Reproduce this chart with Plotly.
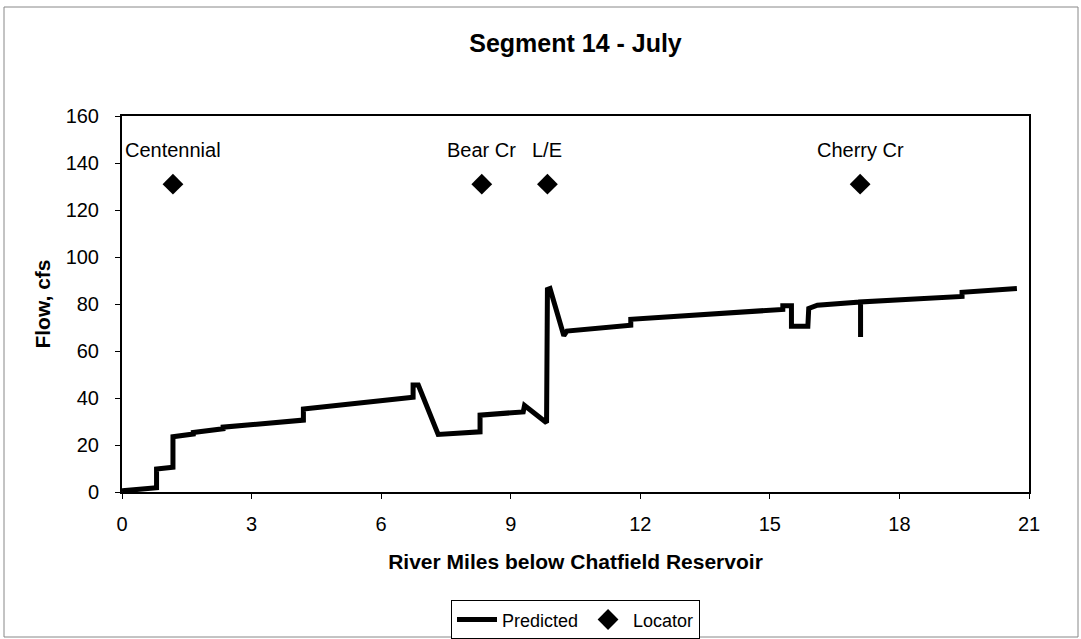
import plotly.graph_objects as go

# Predicted flow profile (river miles, cfs)
pred_x = [0, 0.8, 0.8, 1.18, 1.18, 1.65, 1.65, 2.34, 2.34, 4.2, 4.2, 6.74, 6.74, 6.86,
          7.32, 8.29, 8.29, 9.29, 9.32, 9.83, 9.85, 9.91, 10.23, 10.3, 11.78, 11.78,
          15.3, 15.3, 15.5, 15.5, 15.88, 15.9, 16.1, 17.1, 17.1, 17.1, 19.45, 19.45, 20.72]
pred_y = [0.5, 1.8, 9.8, 10.5, 23.5, 24.7, 25.3, 26.9, 27.6, 30.6, 35.3, 40.3, 45.5, 45.5,
          24.5, 25.6, 32.7, 34.1, 36.8, 29.5, 86.2, 86.6, 66.5, 68.5, 71.0, 73.5,
          77.7, 79.3, 79.3, 70.5, 70.5, 78.1, 79.5, 80.9, 66.0, 80.9, 83.2, 85.0, 86.6]

# Locators
loc_names = ["Centennial", "Bear Cr", "L/E", "Cherry Cr"]
loc_x = [1.18, 8.33, 9.85, 17.09]
loc_y = [131, 131, 131, 131]

x_ticks = [0, 3, 6, 9, 12, 15, 18, 21]
y_ticks = [0, 20, 40, 60, 80, 100, 120, 140, 160]

FONT = "Liberation Sans, Arial, sans-serif"

fig = go.Figure()
fig.add_trace(go.Scatter(x=pred_x, y=pred_y, mode="lines", name="Predicted",
                         line=dict(color="black", width=5)))
fig.add_trace(go.Scatter(x=loc_x, y=loc_y, mode="markers", name="Locator",
                         marker=dict(symbol="diamond", size=16, color="black")))

for n, xv, yv in zip(loc_names, loc_x, loc_y):
    fig.add_annotation(x=xv, y=yv, text=n, showarrow=False, xref="x", yref="y",
                       yshift=34, font=dict(family=FONT, size=20, color="black"))

fig.update_layout(
    width=1081, height=639,
    margin=dict(l=122, r=52, t=116, b=147, autoexpand=False),
    paper_bgcolor="white", plot_bgcolor="white",
    font=dict(family=FONT, size=20, color="black"),
    title=dict(text="<b>Segment 14 - July</b>", x=0.5, xref="paper", xanchor="center",
               y=1 - 43 / 639, yref="container", yanchor="middle",
               font=dict(family=FONT, size=25, color="black")),
    showlegend=True,
    legend=dict(orientation="h", x=0.5, xanchor="center", y=-0.288, yanchor="top",
                bordercolor="black", borderwidth=1, bgcolor="white",
                font=dict(family=FONT, size=18, color="black"),
                itemwidth=40, tracegroupgap=0),
)
fig.update_xaxes(range=[0, 21], tickvals=x_ticks, ticktext=[str(v) for v in x_ticks],
                 showgrid=False, zeroline=False, showline=True, linecolor="black",
                 linewidth=2, mirror=True, ticks="outside", ticklen=5, tickcolor="black",
                 tickfont=dict(family=FONT, size=20), ticklabelstandoff=8,
                 automargin=False,
                 title=dict(text="<b>River Miles below Chatfield Reservoir</b>",
                            font=dict(family=FONT, size=21), standoff=20))
fig.update_yaxes(range=[0, 160], tickvals=y_ticks, ticktext=[str(v) for v in y_ticks],
                 showgrid=False, zeroline=False, showline=True, linecolor="black",
                 linewidth=2, mirror=True, ticks="outside", ticklen=5, tickcolor="black",
                 tickfont=dict(family=FONT, size=20), ticklabelstandoff=12,
                 automargin=False,
                 title=dict(text="<b>Flow, cfs</b>", font=dict(family=FONT, size=21),
                            standoff=9))

# outer frame of the chart
fig.add_shape(type="rect", xref="paper", yref="paper",
              x0=(4 - 122) / 907, x1=(1078 - 122) / 907,
              y0=(492 - 637) / 376, y1=(492 - 7) / 376,
              line=dict(color="#888888", width=1), layer="below")

fig.write_html("out.html")
